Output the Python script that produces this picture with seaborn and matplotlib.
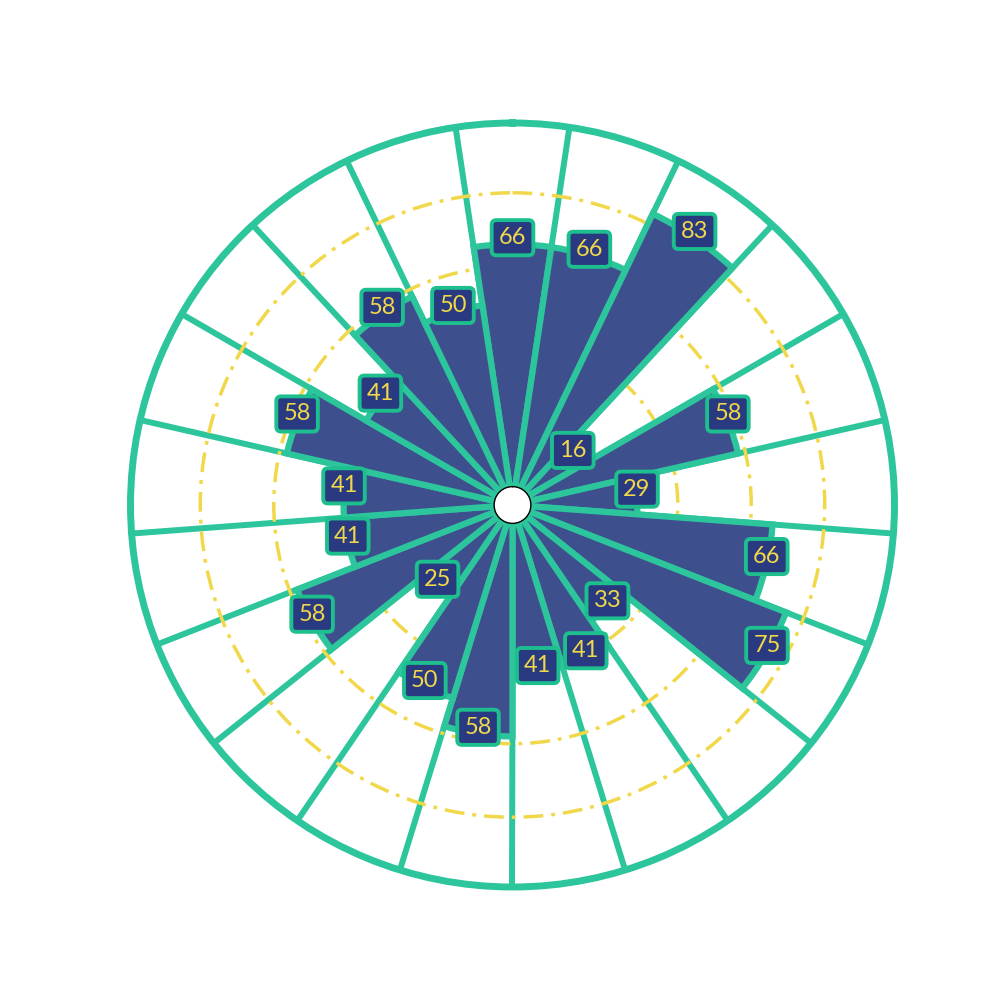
import numpy as np
import matplotlib
matplotlib.use("Agg")
import matplotlib.pyplot as plt
import seaborn as sns

# valores de cada sector (sentido horario desde arriba)
values = [66, 66, 83, 16, 58, 29, 66, 75, 33, 41, 41,
          58, 50, 25, 58, 41, 41, 58, 41, 58, 50]
labels = [str(v) for v in values]
rings = [20, 40, 60, 80]

bar_color = "#3e4f8e"
green = "#2dc59c"
box_color = "#2a3a80"
box_edge = "#1dbf8e"
yellow = "#f1d84a"

sns.set_theme(style="white")
plt.rcParams["font.family"] = ["Lato", "DejaVu Sans"]

n = len(values)
width = 2 * np.pi / n
theta = np.arange(n) * width

fig = plt.figure(figsize=(10, 10), dpi=100)
ax = fig.add_axes([0.1305, 0.113, 0.764, 0.764], projection="polar")
ax.set_theta_zero_location("N")
ax.set_theta_direction(-1)
ax.set_ylim(0, 99)
ax.set_rorigin(-5)

ax.bar(theta, values, width=width, color=bar_color, edgecolor=green,
       linewidth=4.5, zorder=2)

# rejilla
ax.set_xticks(theta + width / 2)
ax.set_xticklabels([])
ax.set_yticks(rings)
ax.set_yticklabels([])
ax.xaxis.grid(True, color=green, linewidth=4.3)
ax.yaxis.grid(True, color=yellow, linewidth=2.5,
              linestyle=(0, (5.7, 2.3, 1.1, 2.3)))
ax.set_axisbelow(True)
ax.spines["polar"].set_color(green)
ax.spines["polar"].set_linewidth(5)
ax.spines["inner"].set_color("black")
ax.spines["inner"].set_linewidth(1.0)

# etiquetas
for t, v, lab in zip(theta, values, labels):
    ax.text(t, v, lab, ha="center", color=yellow, fontsize=17, zorder=5,
            bbox=dict(boxstyle="round,pad=0.3,rounding_size=0.2",
                      fc=box_color, ec=box_edge, lw=2.8))

fig.savefig("out.png", dpi=100)
